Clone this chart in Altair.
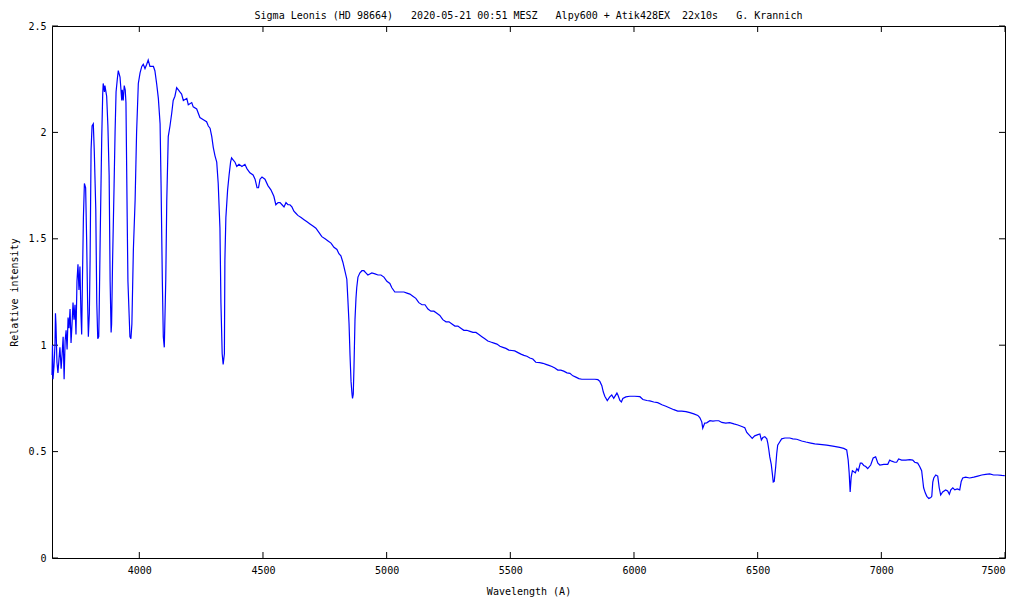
import altair as alt
import pandas as pd

# Spectrum
wavelength = [
    3647, 3649, 3651, 3655, 3659, 3661, 3663, 3667, 3671, 3675, 3679, 3684, 3688, 3692, 3696, 3700,
    3704, 3708, 3712, 3716, 3720, 3724, 3728, 3732, 3736, 3740, 3744, 3748, 3752, 3756, 3760, 3764,
    3767, 3770, 3774, 3778, 3783, 3787, 3791, 3794, 3798, 3801, 3805, 3809, 3814, 3818, 3824, 3828,
    3832, 3836, 3838, 3842, 3848, 3852, 3854, 3859, 3861, 3868, 3873, 3878, 3882, 3886, 3888, 3892,
    3898, 3902, 3906, 3911, 3915, 3922, 3929, 3931, 3935, 3939, 3943, 3946, 3951, 3954, 3962, 3966,
    3970, 3976, 3983, 3989, 3996, 4003,
    4010, 4016, 4023, 4030, 4036, 4043, 4050, 4057, 4063, 4070, 4077, 4084, 4088, 4093, 4097, 4101,
    4107, 4111, 4117, 4124, 4131, 4137, 4144, 4151, 4158, 4164, 4171, 4178, 4192, 4198, 4212, 4218,
    4232, 4245, 4259, 4272, 4279, 4286, 4293, 4299, 4306, 4313, 4319, 4326, 4330, 4335, 4339, 4344,
    4346, 4350, 4357, 4363, 4369, 4373, 4380, 4387, 4394, 4403,
    4415, 4427, 4435, 4447, 4460, 4468, 4476, 4482, 4488, 4496, 4508, 4520, 4532, 4544, 4552, 4561,
    4569, 4577, 4585, 4593, 4601, 4609, 4617, 4625, 4633, 4641, 4654, 4666, 4678, 4690, 4702, 4714,
    4726, 4738, 4751, 4763, 4775, 4787, 4799, 4807, 4815, 4823, 4831, 4839, 4843, 4848, 4852, 4856,
    4860, 4862, 4865, 4868, 4872, 4876, 4879, 4884, 4892, 4900, 4908, 4916, 4924, 4932, 4940, 4953,
    4965, 4977, 4989, 5001, 5013, 5021, 5033, 5046, 5058, 5070, 5082, 5094, 5106, 5118, 5130, 5143,
    5155, 5167, 5179, 5191, 5203, 5215, 5227, 5240, 5252, 5264, 5276, 5288, 5300, 5312, 5324, 5337,
    5349, 5361, 5373, 5385, 5397, 5409, 5421, 5434, 5446, 5458, 5470, 5482, 5494, 5506, 5518, 5531,
    5543, 5555, 5567, 5579, 5591, 5603, 5619, 5632, 5644, 5656, 5668, 5680, 5692, 5704, 5716, 5729,
    5741, 5753, 5765, 5777, 5789, 5801, 5821, 5842, 5854, 5862, 5870, 5876, 5882, 5892, 5902, 5910,
    5918, 5931, 5935, 5943, 5949, 5955, 5967, 5983, 6003, 6024, 6036, 6052, 6064, 6080, 6096, 6113,
    6129, 6145, 6161, 6177, 6193, 6210, 6226, 6242, 6258, 6266, 6274, 6278, 6286, 6294, 6307, 6319,
    6331, 6343, 6355, 6371, 6387, 6404, 6420, 6436, 6448, 6456, 6468, 6478, 6488, 6501, 6509, 6515,
    6521, 6529, 6537, 6541, 6545, 6549, 6555, 6559, 6563, 6567, 6573, 6577, 6581, 6589, 6597, 6610,
    6630, 6642, 6658, 6678, 6695, 6715, 6731, 6751, 6779, 6804, 6832, 6848, 6860, 6866, 6870, 6874,
    6878, 6883, 6889, 6895, 6901, 6907, 6915, 6921, 6929, 6937, 6945, 6957, 6967, 6977, 6986, 6994,
    7010, 7026, 7034, 7042, 7054, 7062, 7070, 7082, 7099, 7115, 7127, 7135, 7147, 7155, 7163, 7167,
    7171, 7178, 7184, 7192, 7200, 7204, 7208, 7212, 7220, 7228, 7234, 7240, 7248, 7260, 7268, 7275,
    7281, 7289, 7297, 7307, 7317, 7323, 7329, 7341, 7357, 7374, 7390, 7406, 7422, 7438, 7454, 7470,
    7487, 7499,
]
intensity = [
    0.86, 1.00, 0.84, 0.90, 1.00, 1.15, 1.10, 0.92, 0.87, 0.93, 0.99, 0.89, 0.96, 1.04, 0.84, 1.02,
    1.07, 0.98, 1.13, 1.08, 1.17, 1.01, 1.10, 1.20, 1.12, 1.19, 1.05, 1.30, 1.38, 1.26, 1.37, 1.15,
    1.05, 1.30, 1.60, 1.76, 1.74, 1.50, 1.20, 1.04, 1.15, 1.40, 1.92, 2.03, 2.04, 1.91, 1.64, 1.20,
    1.03, 1.04, 1.18, 1.52, 1.97, 2.18, 2.23, 2.19, 2.22, 2.17, 2.03, 1.80, 1.30, 1.06, 1.10, 1.40,
    1.75, 2.00, 2.19, 2.25, 2.29, 2.26, 2.15, 2.20, 2.15, 2.22, 2.20, 2.14, 1.60, 1.30, 1.04, 1.03,
    1.10, 1.45, 1.68, 2.00, 2.23, 2.28,
    2.31, 2.32, 2.30, 2.32, 2.34, 2.31, 2.31, 2.31, 2.29, 2.23, 2.16, 2.04, 1.75, 1.31, 1.04, 0.99,
    1.31, 1.68, 1.98, 2.03, 2.09, 2.15, 2.17, 2.21, 2.20, 2.19, 2.18, 2.15, 2.16, 2.13, 2.14, 2.12,
    2.11, 2.07, 2.06, 2.05, 2.03, 2.02, 1.98, 1.93, 1.89, 1.86, 1.76, 1.55, 1.20, 0.96, 0.91, 0.96,
    1.40, 1.60, 1.73, 1.80, 1.86, 1.88, 1.87, 1.86, 1.84, 1.85,
    1.84, 1.85, 1.83, 1.81, 1.80, 1.78, 1.74, 1.74, 1.78, 1.79, 1.78, 1.75, 1.73, 1.70, 1.66, 1.67,
    1.67, 1.66, 1.65, 1.67, 1.66, 1.66, 1.65, 1.63, 1.62, 1.61, 1.60, 1.59, 1.58, 1.57, 1.56, 1.55,
    1.53, 1.51, 1.50, 1.49, 1.48, 1.46, 1.45, 1.43, 1.42, 1.39, 1.35, 1.31, 1.22, 1.10, 0.95, 0.83,
    0.77, 0.75, 0.77, 0.90, 1.12, 1.22, 1.27, 1.32, 1.34, 1.35, 1.35, 1.34, 1.33, 1.335, 1.34, 1.335,
    1.33, 1.33, 1.32, 1.30, 1.29, 1.27, 1.25, 1.25, 1.25, 1.25, 1.245, 1.24, 1.23, 1.22, 1.20, 1.19,
    1.19, 1.17, 1.16, 1.16, 1.15, 1.14, 1.12, 1.11, 1.11, 1.10, 1.09, 1.09, 1.08, 1.07, 1.07, 1.065,
    1.06, 1.06, 1.05, 1.04, 1.03, 1.02, 1.015, 1.01, 1.005, 0.995, 0.99, 0.985, 0.977, 0.975, 0.973, 0.965,
    0.958, 0.952, 0.948, 0.94, 0.935, 0.92, 0.918, 0.915, 0.91, 0.905, 0.90, 0.893, 0.883, 0.883, 0.878, 0.87,
    0.868, 0.856, 0.85, 0.843, 0.84, 0.84, 0.84, 0.84, 0.838, 0.83, 0.81, 0.78, 0.76, 0.74, 0.757, 0.766,
    0.75, 0.775, 0.766, 0.74, 0.733, 0.75, 0.757, 0.76, 0.76, 0.758, 0.745, 0.74, 0.738, 0.733, 0.73, 0.72,
    0.713, 0.705, 0.697, 0.69, 0.69, 0.688, 0.683, 0.677, 0.67, 0.66, 0.64, 0.61, 0.634, 0.635, 0.645, 0.643,
    0.645, 0.645, 0.637, 0.634, 0.636, 0.63, 0.625, 0.618, 0.612, 0.59, 0.575, 0.562, 0.574, 0.58, 0.583, 0.555,
    0.566, 0.57, 0.56, 0.54, 0.51, 0.475, 0.44, 0.40, 0.357, 0.36, 0.43, 0.49, 0.53, 0.545, 0.56, 0.564,
    0.564, 0.56, 0.558, 0.55, 0.545, 0.54, 0.536, 0.534, 0.53, 0.526, 0.52, 0.515, 0.508, 0.46, 0.40, 0.31,
    0.38, 0.41, 0.405, 0.40, 0.42, 0.41, 0.446, 0.446, 0.435, 0.43, 0.42, 0.437, 0.47, 0.475, 0.446, 0.437,
    0.44, 0.44, 0.46, 0.455, 0.45, 0.45, 0.465, 0.46, 0.46, 0.462, 0.46, 0.45, 0.446, 0.43, 0.41, 0.37,
    0.33, 0.305, 0.29, 0.28, 0.284, 0.29, 0.357, 0.376, 0.39, 0.385, 0.33, 0.296, 0.31, 0.32, 0.315, 0.30,
    0.32, 0.33, 0.32, 0.325, 0.32, 0.36, 0.376, 0.38, 0.376, 0.38, 0.385, 0.39, 0.393, 0.395, 0.39, 0.39,
    0.388, 0.387,
]
x_ticks = [4000, 4500, 5000, 5500, 6000, 6500, 7000, 7500]
y_ticks = [0, 0.5, 1, 1.5, 2, 2.5]

title_text = ("Sigma Leonis (HD 98664)   2020-05-21 00:51 MESZ   "
              "Alpy600 + Atik428EX  22x10s   G. Krannich").replace(" ", "\u00a0")

W, H = 953, 532
TL = 6
FONT = "DejaVu Sans Mono"

df = pd.DataFrame({"wl": wavelength, "I": intensity})
xt = pd.DataFrame({"wl": x_ticks})
yt = pd.DataFrame({"I": y_ticks})

xscale = alt.Scale(domain=[3647, 7500], nice=False, zero=False)
yscale = alt.Scale(domain=[0, 2.5], nice=False, zero=False)

x_axis = alt.Axis(values=x_ticks, format="d", title="Wavelength (A)",
                  titleX=W / 2, titleY=33, titleBaseline="middle", labelPadding=7)
y_axis = alt.Axis(values=y_ticks, format=".1~f", title="Relative intensity",
                  titleX=-38, titleY=H / 2, titleAngle=270, titleBaseline="middle",
                  titleAlign="center", labelPadding=6)

line = alt.Chart(df).mark_line(color="#0000ff", strokeWidth=1.2).encode(
    x=alt.X("wl:Q", scale=xscale, axis=x_axis),
    y=alt.Y("I:Q", scale=yscale, axis=y_axis),
)

xt_bottom = alt.Chart(xt).mark_rule(color="black", strokeWidth=1).encode(
    x=alt.X("wl:Q", scale=xscale, axis=x_axis), y=alt.value(H), y2=alt.value(H - TL))
xt_top = alt.Chart(xt).mark_rule(color="black", strokeWidth=1).encode(
    x=alt.X("wl:Q", scale=xscale, axis=x_axis), y=alt.value(0), y2=alt.value(TL))
yt_left = alt.Chart(yt).mark_rule(color="black", strokeWidth=1).encode(
    y=alt.Y("I:Q", scale=yscale, axis=y_axis), x=alt.value(0), x2=alt.value(TL))
yt_right = alt.Chart(yt).mark_rule(color="black", strokeWidth=1).encode(
    y=alt.Y("I:Q", scale=yscale, axis=y_axis), x=alt.value(W), x2=alt.value(W - TL))

chart = alt.layer(xt_bottom, xt_top, yt_left, yt_right, line).properties(
    width=W, height=H,
    padding={"left": 44, "top": 18, "right": 10, "bottom": 40},
    autosize=alt.AutoSizeParams(type="none"),
    title=alt.TitleParams(text=title_text, font=FONT, fontSize=10, fontWeight="normal",
                          anchor="middle", offset=0, color="black"),
).configure_view(
    stroke="black", strokeWidth=1
).configure_axis(
    domain=False, ticks=False, grid=False,
    labelFont=FONT, labelFontSize=10, labelColor="black",
    titleFont=FONT, titleFontSize=10, titleFontWeight="normal", titleColor="black",
)

chart.save("out.html", embed_options={"renderer": "svg", "actions": False})
